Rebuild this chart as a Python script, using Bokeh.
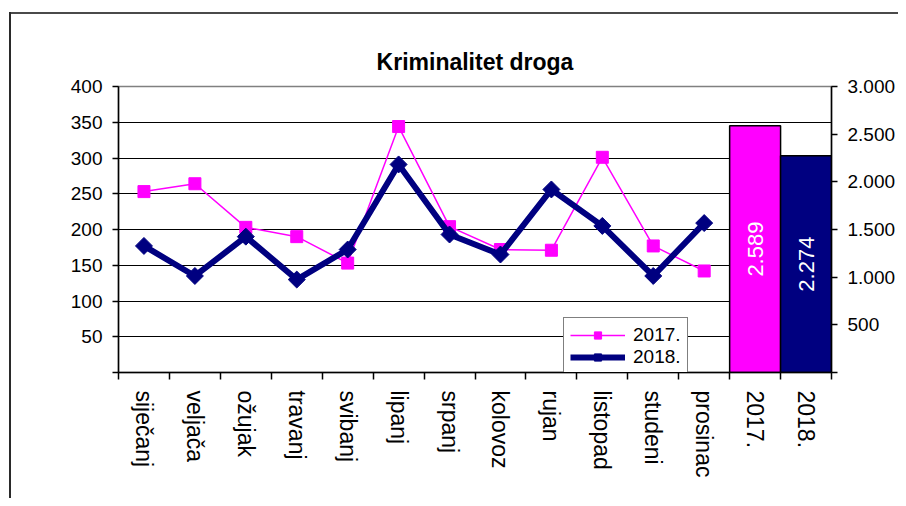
import numpy as np
from bokeh.plotting import figure
from bokeh.models import Range1d, LinearAxis, FixedTicker, Legend
from bokeh.core.properties import value
from bokeh.embed import file_html
from bokeh.resources import INLINE

# ---- data ----
chart_title = "Kriminalitet droga"
months = ["siječanj", "veljača", "ožujak", "travanj", "svibanj", "lipanj",
          "srpanj", "kolovoz", "rujan", "listopad", "studeni", "prosinac"]
year_labels = ["2017.", "2018."]
v2017 = [253, 264, 203, 190, 153, 344, 204, 172, 171, 301, 177, 142]
v2018 = [177, 135, 190, 130, 172, 291, 193, 165, 256, 205, 135, 209]
totals = [2589, 2274]
left_ticks = [0, 50, 100, 150, 200, 250, 300, 350, 400]
right_ticks = [0, 500, 1000, 1500, 2000, 2500, 3000]

FONT = "Liberation Sans"
PINK = "#FF00FF"
NAVY = "#000080"


def fmt(n):
    return f"{n:,}".replace(",", ".")


categories = months + year_labels
centers = [i + 0.5 for i in range(len(categories))]
x_months = centers[:len(months)]
x_years = centers[len(months):]

p = figure(width=898, height=498, x_range=Range1d(0, len(categories)),
           y_range=Range1d(left_ticks[0], left_ticks[-1]),
           output_backend="svg", toolbar_location=None,
           min_border_left=118, min_border_right=65,
           min_border_top=86, min_border_bottom=126,
           title=chart_title)
p.styles = {"box-shadow": "inset 0 12px 0 0 #ffffff, inset 9px 0 0 0 #ffffff, "
                          "inset 11px 0 0 0 #2a2a2a, inset 0 14px 0 0 #4a4a4a"}
p.border_fill_color = None
p.background_fill_color = "white"
p.outline_line_color = "#808080"
p.outline_line_width = 1.5

p.title.align = "center"
p.title.text_font = FONT
p.title.text_font_size = "23px"
p.title.text_font_style = "bold"
p.title.text_color = "black"
p.title.padding = 7

p.extra_y_ranges = {"right": Range1d(right_ticks[0], right_ticks[-1])}

# grid
p.xgrid.visible = False
p.ygrid.ticker = FixedTicker(ticks=left_ticks[1:-1])
p.ygrid.grid_line_color = "black"
p.ygrid.grid_line_width = 1.2

# left axis
ya = p.yaxis[0]
ya.ticker = FixedTicker(ticks=left_ticks)
ya.major_label_overrides = {left_ticks[0]: ""}
ya.axis_line_width = 1.5
ya.major_tick_out = 6
ya.major_tick_in = 0
ya.minor_tick_line_color = None
ya.major_tick_line_width = 1.5
ya.major_label_standoff = 10
ya.major_label_text_font = FONT
ya.major_label_text_font_size = "19px"
ya.major_label_text_color = "black"

# right axis
ra = LinearAxis(y_range_name="right", ticker=FixedTicker(ticks=right_ticks))
ra.major_label_overrides = {t: (fmt(t) if t else "") for t in right_ticks}
ra.axis_line_width = 1.5
ra.major_tick_out = 6
ra.major_tick_in = 0
ra.minor_tick_line_color = None
ra.major_tick_line_width = 1.5
ra.major_label_standoff = 10
ra.major_label_text_font = FONT
ra.major_label_text_font_size = "19px"
ra.major_label_text_color = "black"
p.add_layout(ra, "right")

# bottom axis
xa = p.xaxis[0]
xa.ticker = FixedTicker(ticks=centers, minor_ticks=list(range(len(categories) + 1)))
xa.major_label_overrides = {c: lab for c, lab in zip(centers, categories)}
xa.major_tick_out = 0
xa.major_tick_in = 0
xa.minor_tick_out = 7
xa.minor_tick_in = 0
xa.minor_tick_line_color = "black"
xa.minor_tick_line_width = 1.5
xa.axis_line_width = 1.5
xa.major_label_orientation = "vertical"
xa.major_label_standoff = 11
xa.major_label_text_font = FONT
xa.major_label_text_font_size = "23px"
xa.major_label_text_color = "black"

# lines
r17l = p.line(x_months, v2017, line_color=PINK, line_width=1.5)
r17m = p.scatter(x_months, v2017, marker="square", size=12, fill_color=PINK, line_color=PINK)
r18l = p.line(x_months, v2018, line_color=NAVY, line_width=6)
r18m = p.scatter(x_months, v2018, marker="square", angle=np.pi / 4, size=12,
                 fill_color=NAVY, line_color=NAVY)

# yearly totals bars
p.vbar(x=x_years, top=totals, width=1.0, bottom=0, fill_color=[PINK, NAVY],
       line_color="black", line_width=1.5, y_range_name="right")
p.text(x=x_years, y=[t / 2 for t in totals], text=[fmt(t) for t in totals],
       angle=np.pi / 2, text_align="center", text_baseline="middle",
       text_color="white", text_font=value(FONT), text_font_size="22px",
       y_range_name="right")

legend = Legend(items=[(year_labels[0], [r17l, r17m]), (year_labels[1], [r18l, r18m])],
                location=(445, -3))
legend.padding = 6
legend.margin = 0
legend.spacing = 0
legend.glyph_width = 55
legend.glyph_height = 18
legend.label_height = 18
legend.label_standoff = 8
legend.label_text_font = FONT
legend.label_text_font_size = "19px"
legend.label_text_line_height = 1.0
legend.label_text_color = "black"
legend.border_line_color = "black"
legend.border_line_width = 1.5
legend.background_fill_color = "white"
legend.background_fill_alpha = 1
p.add_layout(legend)

open("out.html", "w").write(file_html(p, INLINE))
